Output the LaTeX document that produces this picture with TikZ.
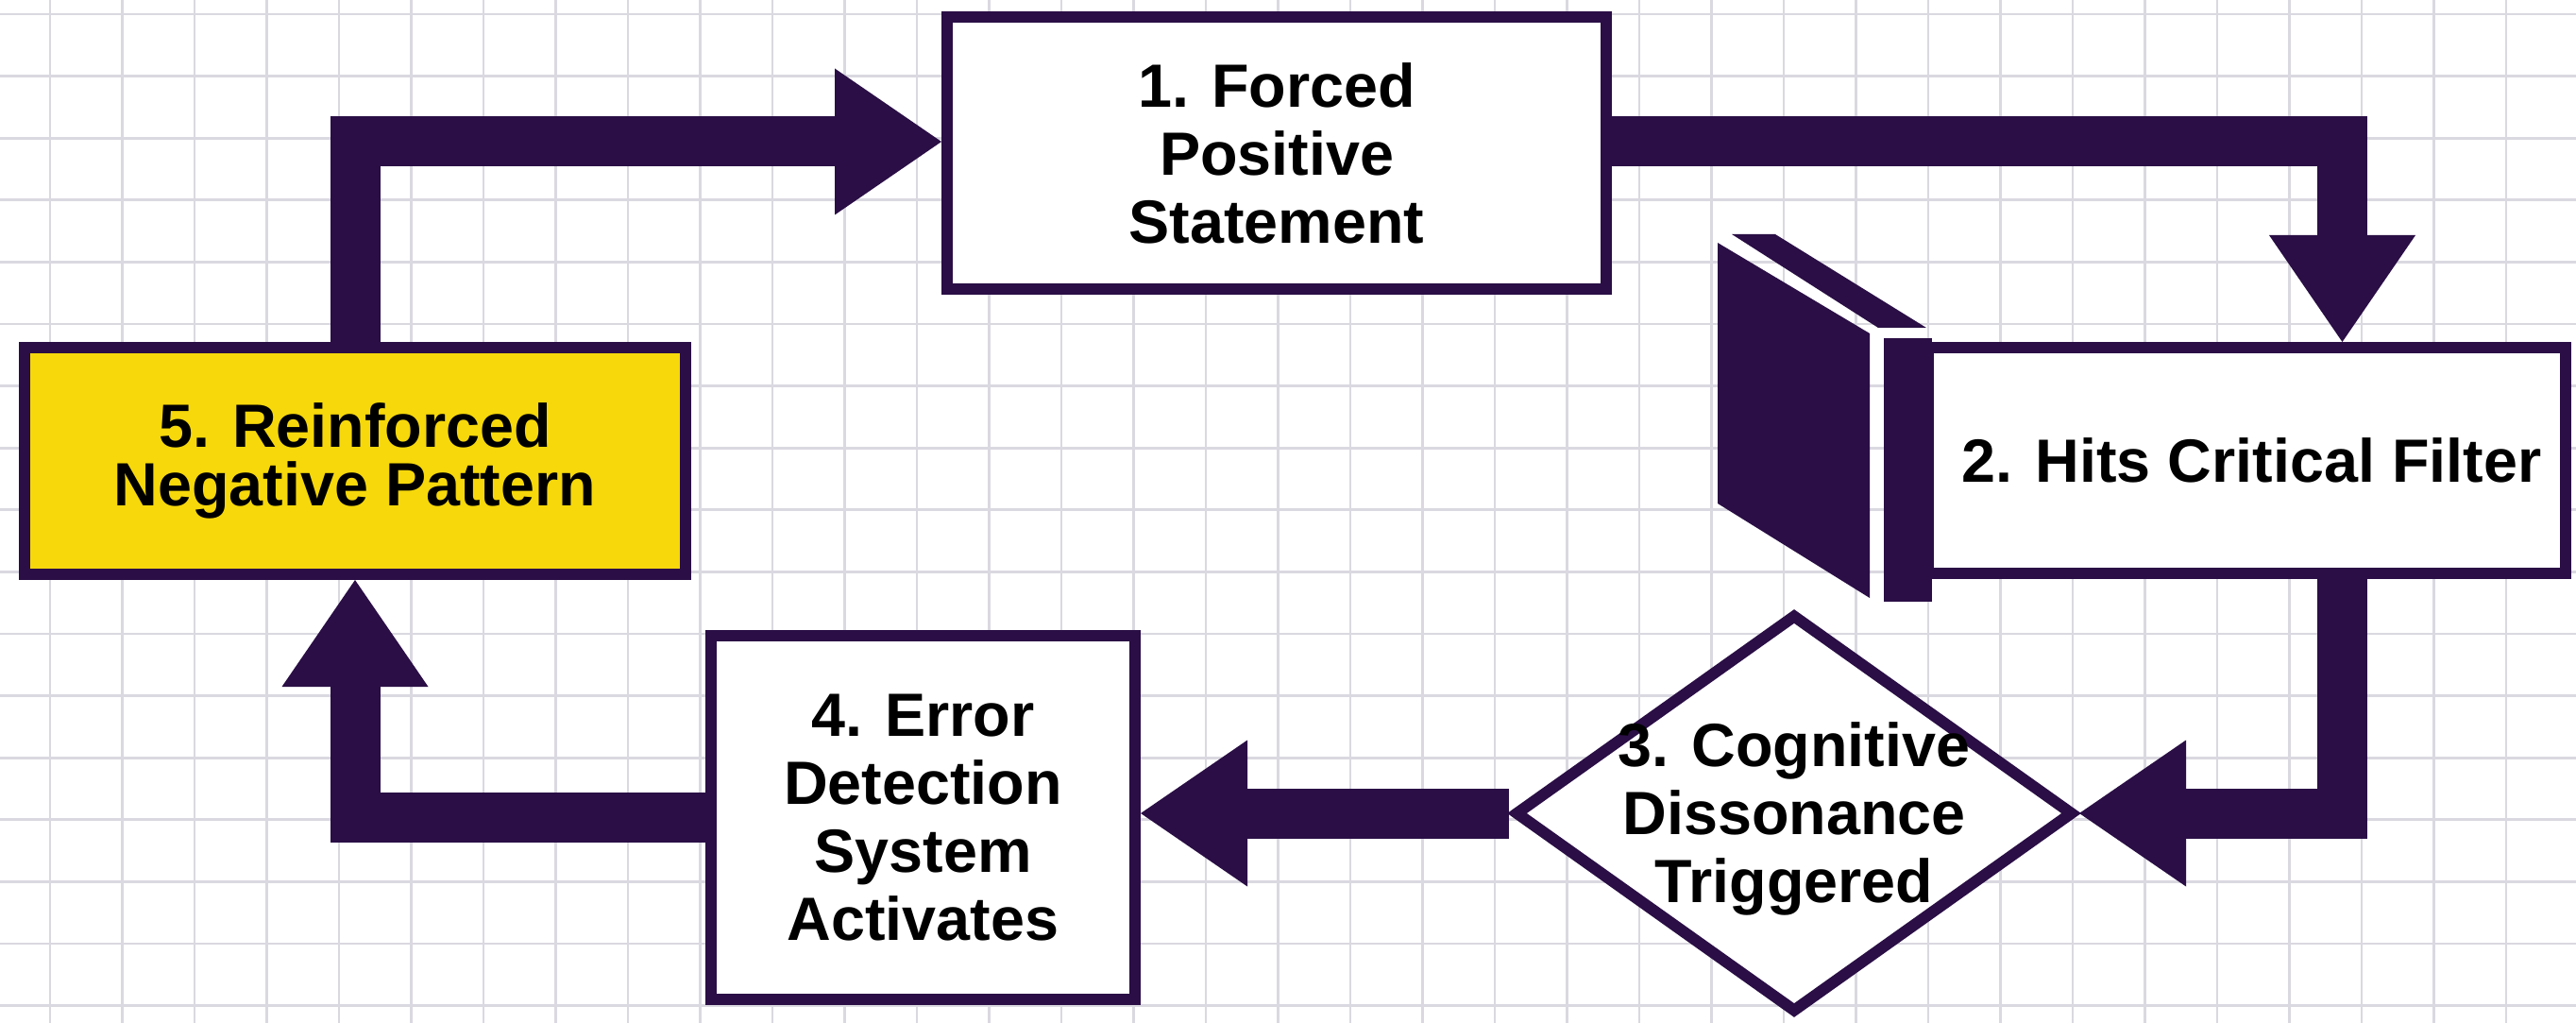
\documentclass[tikz,border=0pt]{standalone}
\usepackage{fontspec}
\setmainfont{Liberation Sans}
\usetikzlibrary{arrows.meta,shapes.geometric}
\definecolor{ink}{HTML}{2A0E45}
\definecolor{hilite}{HTML}{F6D80B}
\definecolor{paper}{HTML}{DAD8E0}

\begin{document}
\begin{tikzpicture}[
    box/.style={draw=ink, line width=0.12cm, fill=white, inner sep=0pt, align=center,
      font=\fontsize{18.4pt}{20.5pt}\selectfont\bfseries},
    lbl/.style={inner sep=0pt, align=center, font=\fontsize{18.4pt}{20.5pt}\selectfont\bfseries},
    flow/.style={draw=ink, line width=0.53cm, line join=miter,
      -{Triangle[length=1.13cm, width=1.55cm, line width=0pt]}}]
  \useasboundingbox (0,0) rectangle (27.28,-10.83);
  \fill[white] (0,0) rectangle (27.28,-10.83);
  \draw[paper, line width=0.028cm, shift={(0.53,-0.15)}, xstep=0.765, ystep=0.656] (-1,-11) grid (28,1);

  % the filter slab
  \fill[ink] (18.19,-2.57) -- (19.80,-3.53) -- (19.80,-6.33) -- (18.19,-5.33) -- cycle;
  \fill[ink] (18.34,-2.48) -- (18.80,-2.48) -- (20.40,-3.47) -- (19.89,-3.47) -- cycle;

  \node[box, minimum width=6.98cm, minimum height=2.88cm] (b1) at (13.52,-1.62)
    {1. Forced\\Positive\\Statement};
  \node[box, minimum width=6.75cm, minimum height=2.39cm] (b2) at (23.795,-4.875)
    {\hspace*{0.1cm}2. Hits Critical Filter};
  \fill[ink] (19.95,-3.58) rectangle (20.46,-6.37);
  \node[box, diamond, minimum width=5.92cm, minimum height=4.22cm] (d3) at (19.00,-8.61) {};
  \node[lbl] (d3t) at ([yshift=-0.06cm]d3.center) {3. Cognitive\\Dissonance\\Triggered};
  \node[box, minimum width=4.49cm, minimum height=3.85cm] (b4) at (9.775,-8.655)
    {4. Error\\Detection\\System\\Activates};
  \node[box, fill=hilite, minimum width=7.00cm, minimum height=2.40cm] (b5) at (3.76,-4.88)
    {\raisebox{-0.06cm}{\shortstack{5. Reinforced\\[0.04cm]Negative Pattern}}};

  \draw[flow] (b5.north) |- ([yshift=0.12cm]b1.west);
  \draw[flow] ([yshift=0.12cm]b1.east) -| ([xshift=1.01cm]b2.north);
  \draw[flow] ([xshift=1.01cm]b2.south) |- (d3.east);
  \draw[flow] (d3.west) -- (d3.west -| b4.east);
  \draw[flow] (b4.west) -| (b5.south);
\end{tikzpicture}
\end{document}
